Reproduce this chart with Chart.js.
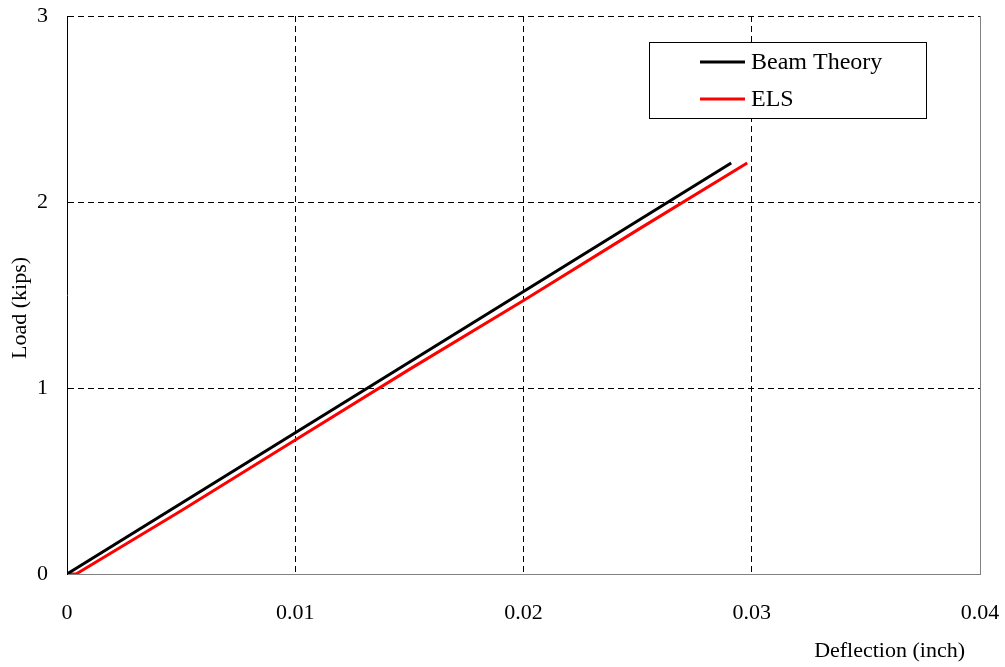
<!DOCTYPE html>
<html>
<head>
<meta charset="utf-8">
<script src="https://cdn.jsdelivr.net/npm/chart.js@4/dist/chart.umd.min.js"></script>
<style>
  body { margin: 0; background: #fff; }
  canvas { display: block; }
</style>
</head>
<body>
<canvas id="loadChart" width="1005" height="667"></canvas>
<script>
/* ---------- DATA ---------- */
const beamX = [0, 0.0291];
const beamY = [0, 2.21];

const elsX = [0, 0.0004, 0.005, 0.01, 0.015, 0.02, 0.025, 0.0298];
const elsY = [0, 0, 0.34, 0.72, 1.10, 1.47, 1.85, 2.21];

const xTicks = [0, 0.01, 0.02, 0.03, 0.04];
const yTicks = [0, 1, 2, 3];

const xTitle = "Deflection (inch)";
const yTitle = "Load (kips)";

const FONT = "'Liberation Serif', 'Times New Roman', serif";

const toPoints = (xs, ys) => xs.map((x, i) => ({ x, y: ys[i] }));

/* ---------- PLUGINS ---------- */
const axisTitles = {
  id: "axisTitles",
  afterDraw(chart) {
    const ctx = chart.ctx;
    ctx.save();
    ctx.fillStyle = "#000";
    ctx.font = "22px " + FONT;
    ctx.textBaseline = "middle";

    ctx.textAlign = "right";
    ctx.fillText(xTitle, 965, 651);

    ctx.translate(20, 308);
    ctx.rotate(-Math.PI / 2);
    ctx.textAlign = "center";
    ctx.fillText(yTitle, 0, 0);
    ctx.restore();
  }
};

const boxLegend = {
  id: "boxLegend",
  afterDraw(chart) {
    const ctx = chart.ctx;
    ctx.save();
    ctx.fillStyle = "#fff";
    ctx.fillRect(649, 42, 277, 76);
    ctx.strokeStyle = "#000";
    ctx.lineWidth = 1;
    ctx.strokeRect(649.5, 42.5, 277, 76);

    ctx.font = "24px " + FONT;
    ctx.textAlign = "left";
    ctx.textBaseline = "middle";
    chart.data.datasets.forEach((ds, i) => {
      const y = 62 + i * 37;
      ctx.strokeStyle = ds.borderColor;
      ctx.lineWidth = 3;
      ctx.beginPath();
      ctx.moveTo(700, y);
      ctx.lineTo(745, y);
      ctx.stroke();
      ctx.fillStyle = "#000";
      ctx.fillText(ds.label, 751, y + 1);
    });
    ctx.restore();
  }
};

/* ---------- CHART ---------- */
const ctx = document.getElementById("loadChart").getContext("2d");

new Chart(ctx, {
  type: "scatter",
  data: {
    datasets: [
      {
        label: "Beam Theory",
        data: toPoints(beamX, beamY),
        showLine: true,
        borderColor: "#000000",
        borderWidth: 3,
        pointRadius: 0,
        tension: 0
      },
      {
        label: "ELS",
        data: toPoints(elsX, elsY),
        showLine: true,
        borderColor: "#ff0000",
        borderWidth: 3,
        pointRadius: 0,
        tension: 0
      }
    ]
  },
  options: {
    responsive: false,
    animation: false,
    layout: { padding: { top: 16, right: 25, left: 0, bottom: 0 } },
    plugins: {
      legend: { display: false },
      tooltip: { enabled: false }
    },
    scales: {
      x: {
        type: "linear",
        min: 0,
        max: 0.04,
        afterFit: s => {
          s.height = 93;
          s.paddingLeft = 0;
          s.paddingRight = 0;
        },
        afterBuildTicks: s => { s.ticks = xTicks.map(v => ({ value: v })); },
        ticks: {
          padding: 26,
          color: "#000",
          font: { family: FONT, size: 22 },
          maxRotation: 0,
          callback: v => (v === 0 ? "0" : v.toFixed(2))
        },
        grid: {
          drawTicks: false,
          lineWidth: 1,
          color: c => (c.index === 0 ? "rgba(0,0,0,0)" :
            c.index === xTicks.length - 1 ? "#808080" : "#000")
        },
        border: {
          display: true,
          color: "#808080",
          width: 1,
          dash: c => (c.index === xTicks.length - 1 ? [] : [6, 4])
        }
      },
      y: {
        type: "linear",
        min: 0,
        max: 3,
        afterFit: s => {
          s.width = 67;
          s.paddingTop = 0;
          s.paddingBottom = 0;
        },
        afterBuildTicks: s => { s.ticks = yTicks.map(v => ({ value: v })); },
        ticks: {
          padding: 19,
          color: "#000",
          font: { family: FONT, size: 22 },
          callback: v => String(v)
        },
        grid: {
          drawTicks: false,
          lineWidth: 1,
          color: c => (c.index === 0 ? "rgba(0,0,0,0)" : "#000")
        },
        border: {
          display: true,
          color: "#000",
          width: 1,
          dash: [6, 4]
        }
      }
    }
  },
  plugins: [axisTitles, boxLegend]
});
</script>
</body>
</html>
